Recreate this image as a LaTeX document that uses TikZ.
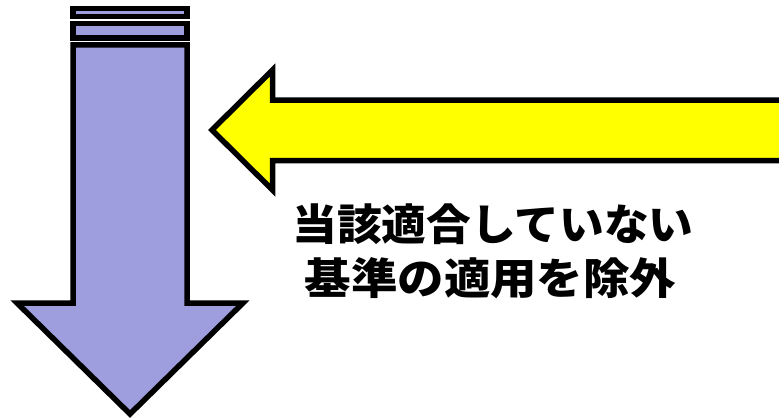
\documentclass[tikz,border=0pt]{standalone}
\usepackage{fontspec}
\newfontfamily\jpfont{Noto Sans CJK JP}
\definecolor{arrowblue}{RGB}{158,158,222}
\definecolor{arrowyellow}{RGB}{255,255,0}
\tikzset{
  shapeline/.style={draw=black, line width=5.5pt, line join=miter, miter limit=10},
  bluefill/.style={shapeline, fill=arrowblue},
  yellowfill/.style={shapeline, fill=arrowyellow},
  jptext/.style={font=\jpfont\bfseries\fontsize{43}{50}\selectfont, inner sep=0pt, anchor=center}
}
\begin{document}
\begin{tikzpicture}[x=1pt,y=-1pt]
\clip (0,0) rectangle (779,420);
\fill[white] (0,0) rectangle (779,420);
% blue down arrow
\draw[bluefill] (73,8.5) rectangle (187,16.5);
\draw[bluefill] (73,23.5) rectangle (187,38);
\draw[bluefill] (73,45) -- (73,303) -- (17,303) -- (130,414) -- (243,303) -- (187,303) -- (187,45) -- cycle;
% yellow left arrow
\draw[yellowfill] (820,100) -- (272.5,100) -- (272.5,70) -- (212,130) -- (272.5,190) -- (272.5,160.5) -- (820,160.5) -- cycle;
% text
\node[jptext] (l1) at (493,224) {\scalebox{1.04}[1]{当該適合していない}};
\node[jptext] (l2) at (490.5,278) {\scalebox{1.08}[1]{基準の適用を除外}};
\end{tikzpicture}
\end{document}
